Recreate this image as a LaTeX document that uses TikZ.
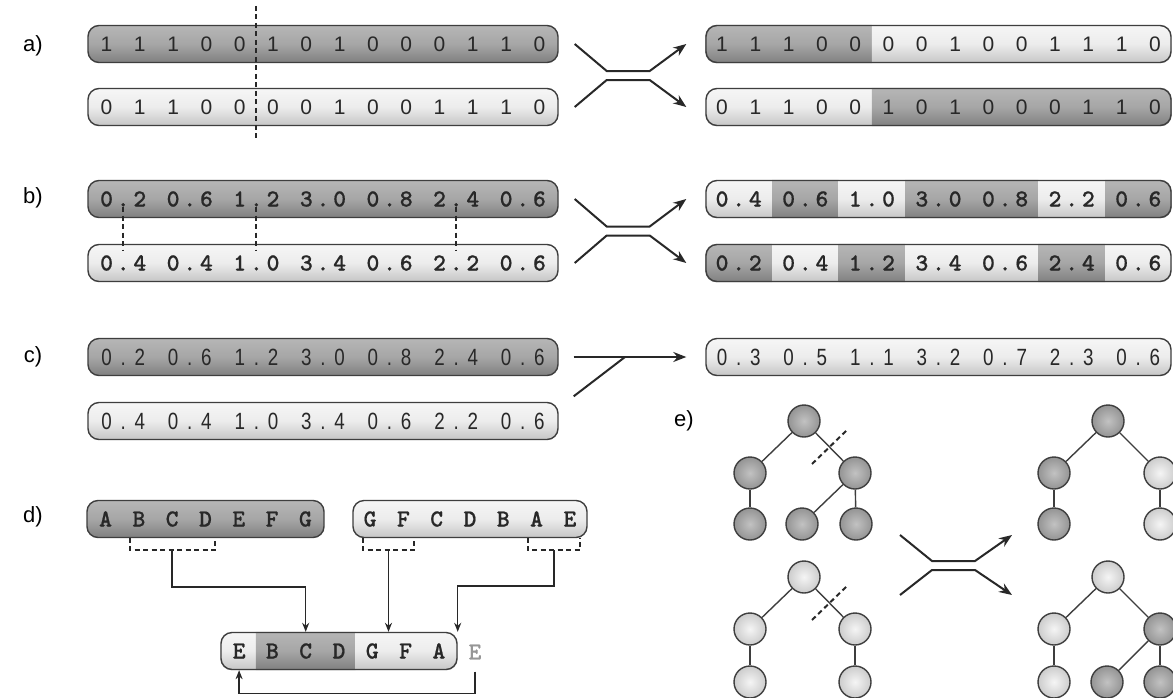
\documentclass[tikz,border=0pt]{standalone}
\usepackage{fontspec}
\setmainfont{Liberation Sans}
\newfontfamily\bitfont{Liberation Sans}
\newfontfamily\genefont[FakeBold=0.6]{lmmonolt10-bold.otf}
\newfontfamily\mixfont[FakeStretch=0.8]{Liberation Sans}
\usetikzlibrary{arrows.meta,calc,backgrounds}
\definecolor{rim}{RGB}{62,62,62}
\definecolor{ink}{RGB}{40,40,40}
\definecolor{dkTop}{RGB}{182,182,182}
\definecolor{dkMid}{RGB}{166,166,166}
\definecolor{dkBot}{RGB}{128,128,128}
\definecolor{ltTop}{RGB}{246,246,246}
\definecolor{ltMid}{RGB}{236,236,236}
\definecolor{ltBot}{RGB}{198,198,198}
\definecolor{lostGray}{RGB}{150,150,150}
\tikzset{
  bar/.style={rectangle, rounded corners=11pt, draw=rim, line width=1.4pt, minimum height=37pt, inner sep=0pt, text=ink},
  darkbar/.style={bar, top color=dkTop, bottom color=dkBot, middle color=dkMid},
  lightbar/.style={bar, top color=ltTop, bottom color=ltBot, middle color=ltMid},
  segbar/.style={bar},
  darkseg/.style={top color=dkTop, bottom color=dkBot, middle color=dkMid},
  lightseg/.style={top color=ltTop, bottom color=ltBot, middle color=ltMid},
  bits/.style={font=\bitfont\fontsize{21}{23}\selectfont},
  genes/.style={font=\genefont\fontsize{24.5}{26}\selectfont},
  mixtext/.style={font=\mixfont\fontsize{23.5}{25}\selectfont},
  rowtag/.style={font=\fontsize{22}{24}\selectfont},
  xline/.style={line width=2pt, draw=ink, -{Stealth[length=13pt,width=10pt]}},
  link/.style={line width=1.3pt, draw=ink, -{Stealth[length=9pt,width=7pt]}},
  cutline/.style={line width=2pt, draw=ink, dash pattern=on 5pt off 3.5pt},
  dnode/.style={circle, draw=rim, line width=1.4pt, minimum size=32pt, inner sep=0pt, inner color=black!24, outer color=black!42},
  lnode/.style={circle, draw=rim, line width=1.4pt, minimum size=32pt, inner sep=0pt, inner color=black!4, outer color=black!20},
  branch/.style={line width=1.4pt, draw=rim}
}
\newcommand{\pch}{16.65}
\ExplSyntaxOn
\NewDocumentCommand\cellrow{m}{\str_map_inline:nn{#1}{\makebox[\pch pt]{##1}}}
\ExplSyntaxOff

\begin{document}
\begin{tikzpicture}[x=1pt,y=-1pt]
  \useasboundingbox (0,0) rectangle (1173,697);
  \begin{scope}[on background layer]
    \fill[white] (0,0) rectangle (1173,697);
  \end{scope}
  \clip (0,0) rectangle (1173,697);

  % Row labels
  \node[rowtag] (tagA) at (33,46) {a)};
  \node[rowtag] (tagB) at (33,198) {b)};
  \node[rowtag] (tagC) at (33,357) {c)};
  \node[rowtag] (tagD) at (33,517) {d)};
  \node[rowtag] (tagE) at (684,421) {e)};

  % a) one-point crossover
  \node[darkbar, bits, minimum width=470pt] (a1) at (323,44) {\cellrow{1 1 1 0 0 1 0 1 0 0 0 1 1 0}};
  \node[lightbar, bits, minimum width=470pt] (a2) at (323,107) {\cellrow{0 1 1 0 0 0 0 1 0 0 1 1 1 0}};
  \node[segbar, bits, minimum width=465pt] (ra1) at (938.5,44) {\cellrow{1 1 1 0 0 0 0 1 0 0 1 1 1 0}};
  \node[segbar, bits, minimum width=465pt] (ra2) at (938.5,107) {\cellrow{0 1 1 0 0 1 0 1 0 0 0 1 1 0}};
  \begin{scope}[on background layer]
    \begin{scope}
      \clip[rounded corners=11pt] (ra1.north west) rectangle (ra1.south east);
      \shade[darkseg] (ra1.north west) rectangle ($(ra1.south)+(-4*\pch,0)$);
      \shade[lightseg] ($(ra1.north)+(-4*\pch,0)$) rectangle (ra1.south east);
    \end{scope}
    \begin{scope}
      \clip[rounded corners=11pt] (ra2.north west) rectangle (ra2.south east);
      \shade[lightseg] (ra2.north west) rectangle ($(ra2.south)+(-4*\pch,0)$);
      \shade[darkseg] ($(ra2.north)+(-4*\pch,0)$) rectangle (ra2.south east);
    \end{scope}
  \end{scope}
  \draw[cutline] ($(a1.north)+(-4*\pch,-19)$) -- ($(a2.south)+(-4*\pch,14)$);
  \draw[xline] ([xshift=16pt]a1.east) -- ++(32,27) -- ++(43,0) -- ([xshift=-19pt]ra1.west);
  \draw[xline] ([xshift=16pt]a2.east) -- ++(32,-27) -- ++(43,0) -- ([xshift=-19pt]ra2.west);

  % b) uniform crossover
  \node[darkbar, genes, minimum width=470pt] (b1) at (323,199) {\cellrow{0.2 0.6 1.2 3.0 0.8 2.4 0.6}};
  \node[lightbar, genes, minimum width=470pt] (b2) at (323,263) {\cellrow{0.4 0.4 1.0 3.4 0.6 2.2 0.6}};
  \node[segbar, genes, minimum width=465pt] (rb1) at (938.5,199) {\cellrow{0.4 0.6 1.0 3.0 0.8 2.2 0.6}};
  \node[segbar, genes, minimum width=465pt] (rb2) at (938.5,263) {\cellrow{0.2 0.4 1.2 3.4 0.6 2.4 0.6}};
  \begin{scope}[on background layer]
    \begin{scope}
      \clip[rounded corners=11pt] (rb1.north west) rectangle (rb1.south east);
      \shade[lightseg] (rb1.north west) rectangle ($(rb1.south)+(-10*\pch,0)$);
      \shade[darkseg] ($(rb1.north)+(-10*\pch,0)$) rectangle ($(rb1.south)+(-6*\pch,0)$);
      \shade[lightseg] ($(rb1.north)+(-6*\pch,0)$) rectangle ($(rb1.south)+(-2*\pch,0)$);
      \shade[darkseg] ($(rb1.north)+(-2*\pch,0)$) rectangle ($(rb1.south)+(6*\pch,0)$);
      \shade[lightseg] ($(rb1.north)+(6*\pch,0)$) rectangle ($(rb1.south)+(10*\pch,0)$);
      \shade[darkseg] ($(rb1.north)+(10*\pch,0)$) rectangle (rb1.south east);
    \end{scope}
    \begin{scope}
      \clip[rounded corners=11pt] (rb2.north west) rectangle (rb2.south east);
      \shade[darkseg] (rb2.north west) rectangle ($(rb2.south)+(-10*\pch,0)$);
      \shade[lightseg] ($(rb2.north)+(-10*\pch,0)$) rectangle ($(rb2.south)+(-6*\pch,0)$);
      \shade[darkseg] ($(rb2.north)+(-6*\pch,0)$) rectangle ($(rb2.south)+(-2*\pch,0)$);
      \shade[lightseg] ($(rb2.north)+(-2*\pch,0)$) rectangle ($(rb2.south)+(6*\pch,0)$);
      \shade[darkseg] ($(rb2.north)+(6*\pch,0)$) rectangle ($(rb2.south)+(10*\pch,0)$);
      \shade[lightseg] ($(rb2.north)+(10*\pch,0)$) rectangle (rb2.south east);
    \end{scope}
  \end{scope}
  \draw[cutline] ($(b1.center)+(-12*\pch,8)$) -- ($(b2.center)+(-12*\pch,-13)$);
  \draw[cutline] ($(b1.center)+(-4*\pch,8)$) -- ($(b2.center)+(-4*\pch,-13)$);
  \draw[cutline] ($(b1.center)+(8*\pch,8)$) -- ($(b2.center)+(8*\pch,-13)$);
  \draw[xline] ([xshift=16pt]b1.east) -- ++(32,27.5) -- ++(43,0) -- ([xshift=-19pt]rb1.west);
  \draw[xline] ([xshift=16pt]b2.east) -- ++(32,-27.5) -- ++(43,0) -- ([xshift=-19pt]rb2.west);

  % c) blend crossover
  \node[darkbar, mixtext, minimum width=470pt] (c1) at (323,357) {\cellrow{0.2 0.6 1.2 3.0 0.8 2.4 0.6}};
  \node[lightbar, mixtext, minimum width=470pt] (c2) at (323,421) {\cellrow{0.4 0.4 1.0 3.4 0.6 2.2 0.6}};
  \node[lightbar, mixtext, minimum width=465pt] (rc) at (938.5,357) {\cellrow{0.3 0.5 1.1 3.2 0.7 2.3 0.6}};
  \coordinate (blendJoin) at (625,357);
  \draw[xline] ([xshift=15pt]c1.east) -- ([xshift=-19pt]rc.west);
  \draw[xline, -] ([xshift=15pt,yshift=5.5pt]c2.north east) -- (blendJoin);

  % d) order crossover
  \node[darkbar, genes, minimum width=237pt] (d1) at (205.5,519) {\cellrow{A B C D E F G}};
  \node[lightbar, genes, minimum width=234pt] (d2) at (470,519) {\cellrow{G F C D B A E}};
  \node[segbar, genes, minimum width=236pt] (kid) at (339,651) {\cellrow{E B C D G F A}};
  \node[genes, text=lostGray, inner sep=0pt] (lostE) at (475,652) {E};
  \begin{scope}[on background layer]
    \begin{scope}
      \clip[rounded corners=11pt] (kid.north west) rectangle (kid.south east);
      \shade[lightseg] (kid.north west) rectangle ($(kid.south)+(-5*\pch,0)$);
      \shade[darkseg] ($(kid.north)+(-5*\pch,0)$) rectangle ($(kid.south)+(\pch,0)$);
      \shade[lightseg] ($(kid.north)+(\pch,0)$) rectangle (kid.south east);
    \end{scope}
  \end{scope}
  \coordinate (pickBCD) at (172,550);
  \coordinate (pickGF) at (388.5,550);
  \coordinate (pickAE) at (554,550);
  \coordinate (putBCD) at ($(kid.north)+(-2*\pch,0)$);
  \draw[cutline] (130,537.5) |- (pickBCD) -| (215,537.5);
  \draw[cutline] (363,537.5) |- (pickGF) -| (414,537.5);
  \draw[cutline] (527.5,537.5) |- (pickAE) -| (580,537.5);
  \draw[link] (pickBCD) -- ++(0,37) -| (putBCD);
  \draw[link] (pickGF) -- (pickGF |- kid.north);
  \draw[link] (pickAE) -- ++(0,36) -| (kid.north east);
  \draw[link] ([yshift=-12pt]lostE.south) -- ++(0,22) -| ($(kid.south)+(-6*\pch,0)$);

  % e) subtree crossover
  \node[dnode] (p1r) at (804,421) {};
  \node[dnode] (p1a) at (750,473) {};
  \node[dnode] (p1b) at (855,473) {};
  \node[dnode] (p1c) at (750,524) {};
  \node[dnode] (p1d) at (802,524) {};
  \node[dnode] (p1e) at (856,524) {};
  \draw[branch] (p1r) -- (p1a);
  \draw[branch] (p1r) -- (p1b);
  \draw[branch] (p1a) -- (p1c);
  \draw[branch] (p1b) -- (p1d);
  \draw[branch] (p1b) -- (p1e);

  \node[lnode] (p2r) at (804,577) {};
  \node[lnode] (p2a) at (750,629) {};
  \node[lnode] (p2b) at (855,629) {};
  \node[lnode] (p2c) at (750,682) {};
  \node[lnode] (p2d) at (855,682) {};
  \draw[branch] (p2r) -- (p2a);
  \draw[branch] (p2r) -- (p2b);
  \draw[branch] (p2a) -- (p2c);
  \draw[branch] (p2b) -- (p2d);

  \draw[cutline] ($(p1r)!0.5!(p1b)$) ++(-17.5,17) -- ++(35,-34);
  \draw[cutline] ($(p2r)!0.5!(p2b)$) ++(-17.5,17) -- ++(35,-34);

  \node[dnode] (o1r) at (1108,421) {};
  \node[dnode] (o1a) at (1054,473) {};
  \node[lnode] (o1b) at (1160,473) {};
  \node[dnode] (o1c) at (1054,524) {};
  \node[lnode] (o1d) at (1160,524) {};
  \draw[branch] (o1r) -- (o1a);
  \draw[branch] (o1r) -- (o1b);
  \draw[branch] (o1a) -- (o1c);
  \draw[branch] (o1b) -- (o1d);

  \node[lnode] (o2r) at (1108,577) {};
  \node[lnode] (o2a) at (1054,629) {};
  \node[dnode] (o2b) at (1160,629) {};
  \node[lnode] (o2c) at (1054,682) {};
  \node[dnode] (o2d) at (1107,682) {};
  \node[dnode] (o2e) at (1160,682) {};
  \draw[branch] (o2r) -- (o2a);
  \draw[branch] (o2r) -- (o2b);
  \draw[branch] (o2a) -- (o2c);
  \draw[branch] (o2b) -- (o2d);
  \draw[branch] (o2b) -- (o2e);

  \coordinate (eInTop) at (900,535);
  \coordinate (eOutTop) at (1012,535);
  \coordinate (eInBot) at (900,595);
  \coordinate (eOutBot) at (1012,595);
  \draw[xline] (eInTop) -- ++(32,26) -- ++(43,0) -- (eOutTop);
  \draw[xline] (eInBot) -- ++(32,-25) -- ++(43,0) -- (eOutBot);
\end{tikzpicture}
\end{document}
